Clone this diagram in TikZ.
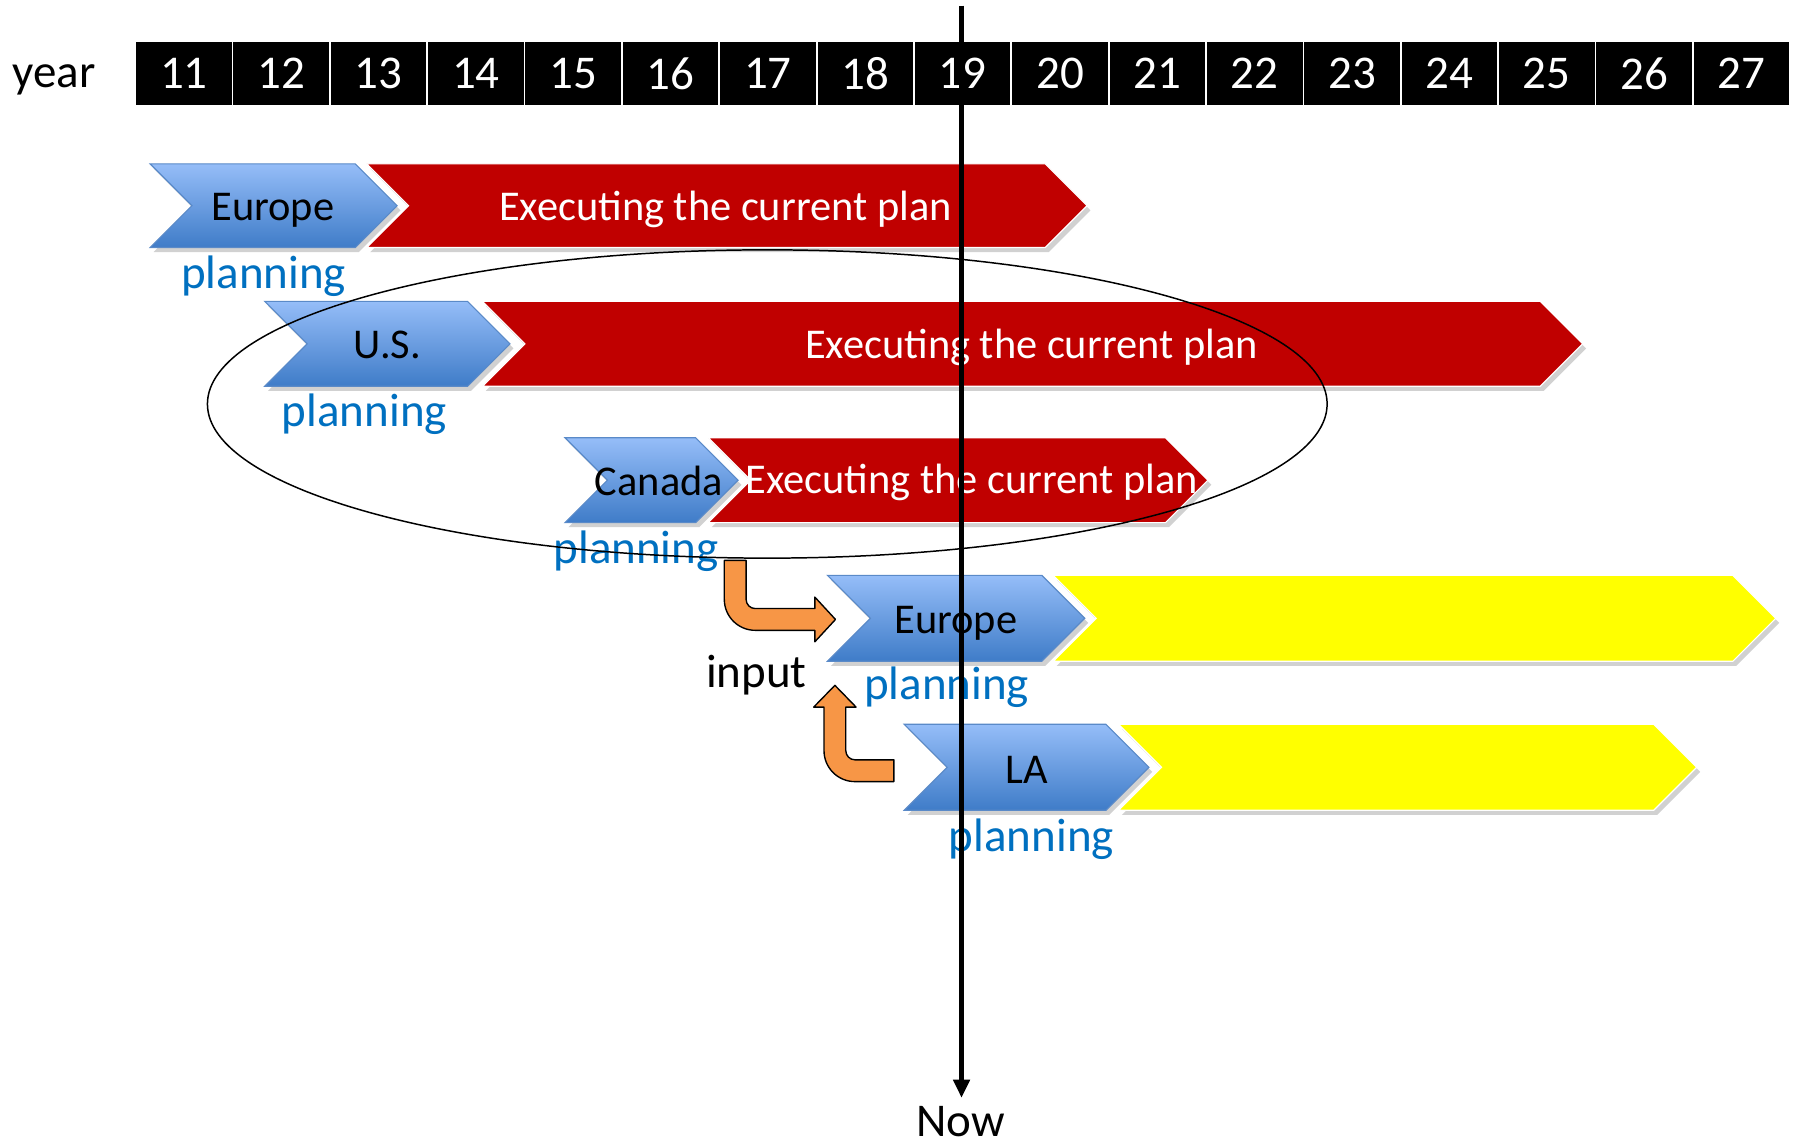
\documentclass[tikz,border=0pt]{standalone}
\usepackage{fontspec}
\setmainfont{Carlito}
\usetikzlibrary{arrows.meta,shapes.geometric}
\definecolor{planblue}{HTML}{0070C0}
\definecolor{execred}{HTML}{C00000}
\definecolor{chevtop}{HTML}{95BDF8}
\definecolor{chevbot}{HTML}{3F7CC8}
\definecolor{chevedge}{HTML}{5A8AC8}
\definecolor{arroworange}{HTML}{F79646}
\definecolor{futureyellow}{HTML}{FFFF00}
% #1 style, #2 x0, #3 x1 (top right corner), #4 ytop, #5 ybot
\newcommand{\chev}[5]{%
  \path[chevshadow] ({#2+3},{#4+4}) -- ({#3+3},{#4+4}) -- ({#3+3+(#5-#4)/2},{(#4+#5)/2+4}) -- ({#3+3},{#5+4}) -- ({#2+3},{#5+4}) -- ({#2+3+(#5-#4)/2},{(#4+#5)/2+4}) -- cycle;
  \path[#1] (#2,#4) -- (#3,#4) -- ({#3+(#5-#4)/2},{(#4+#5)/2}) -- (#3,#5) -- (#2,#5) -- ({#2+(#5-#4)/2},{(#4+#5)/2}) -- cycle;
}
\begin{document}
\begin{tikzpicture}[x=1pt,y=-1pt,
  yearbox/.style={fill=black, draw=white, line width=1.5pt, minimum width=84.94pt, minimum height=57pt, inner sep=0pt, text=white, font=\fontsize{41}{49}\selectfont},
  bluechev/.style={top color=chevtop, bottom color=chevbot, draw=chevedge, line width=1pt},
  redchev/.style={fill=execred, draw=white, line width=1pt},
  yellowchev/.style={fill=futureyellow, draw=white, line width=1pt},
  chevshadow/.style={fill=black, opacity=0.18},
  chevtext/.style={inner sep=0pt, anchor=base, font=\fontsize{37}{44}\selectfont},
  exectext/.style={chevtext, text=white},
  plantext/.style={inner sep=0pt, anchor=base, text=planblue, font=\fontsize{41}{49}\selectfont},
  bigtext/.style={inner sep=0pt, anchor=base, font=\fontsize{41}{49}\selectfont},
  orangearrow/.style={fill=arroworange, draw=black, line width=1.2pt, line join=round},
  nowline/.style={line width=4pt, -{Triangle[length=16pt,width=14pt]}},
  groupring/.style={ellipse, draw=black, line width=1.3pt, inner sep=0pt, minimum width=977pt, minimum height=269pt}
]
\useasboundingbox (0,0) rectangle (1568,999);
\fill[white] (0,0) rectangle (1568,999);

% year header
\node[bigtext] (year) at (47,76) {year};
\foreach \yr [count=\k from 0] in {11,...,27} {
  \node[yearbox] (y\yr) at ({118+84.94*\k+42.47},64) {\yr};
}

% chevrons
\chev{bluechev}{131}{310}{143}{216}
\chev{redchev}{320}{912}{143}{216}
\chev{bluechev}{231}{408}{263}{337}
\chev{redchev}{421}{1344}{263}{337}
\chev{bluechev}{493}{607}{382}{456}
\chev{redchev}{618}{1017}{382}{456}
\chev{bluechev}{722}{909}{502}{577}
\chev{yellowchev}{919}{1512}{502}{577}
\chev{bluechev}{789}{965}{632}{707}
\chev{yellowchev}{976}{1443}{632}{707}

% texts
\node[chevtext] (eu1) at (238,192) {Europe};
\node[exectext] (ex1) at (633,192) {Executing the current plan};
\node[plantext] (pl1) at (230,252) {planning};
\node[chevtext] (us) at (338,313) {U.S.};
\node[exectext] (ex2) at (900,313) {Executing the current plan};
\node[plantext] (pl2) at (318,372) {planning};
\node[chevtext] (ca) at (575,432) {Canada};
\node[exectext] (ex3) at (848,431) {Executing the current plan};
\node[plantext] (pl3) at (555,492) {planning};
\node[chevtext] (eu2) at (834,553) {Europe};
\node[plantext] (pl4) at (826,610) {planning};
\node[chevtext] (la) at (896,684) {LA};
\node[plantext] (pl5) at (900,743) {planning};
\node[bigtext] (input) at (660,600) {input};
\node[bigtext] (now) at (838,992) {Now};

% grouping ellipse
\node[groupring] (group) at (669.5,352.5) {};

% orange input arrows
\draw[orangearrow] (632,489) -- (651,489) -- (651,523) .. controls (651,527.4) and (654.6,531) .. (659,531) -- (711,531) -- (711,521) -- (729,540.5) -- (711,560) -- (711,550) -- (659,550) .. controls (644.1,550) and (632,537.9) .. (632,523) -- cycle;
\draw[orangearrow] (780,663) -- (780,682) -- (746,682) .. controls (731.1,682) and (719,669.9) .. (719,655) -- (719,617) -- (710,617) -- (728.5,598) -- (747,617) -- (738,617) -- (738,655) .. controls (738,659.4) and (741.6,663) .. (746,663) -- cycle;

% now line
\coordinate (nowtop) at (839,5);
\coordinate (nowtip) at (839,958);
\draw[nowline] (nowtop) -- (nowtip);
\end{tikzpicture}
\end{document}
